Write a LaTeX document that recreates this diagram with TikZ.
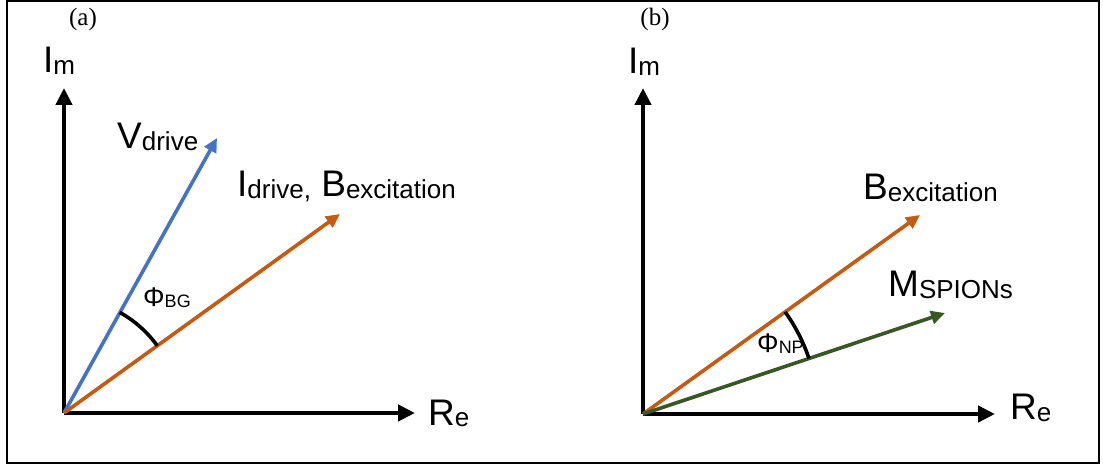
\documentclass[tikz,border=0pt]{standalone}
\usepackage{fontspec}
\setmainfont{Liberation Sans}
\newfontfamily\panelfont{Liberation Serif}
\usetikzlibrary{arrows.meta}
\definecolor{vblue}{HTML}{4472C4}
\definecolor{borange}{HTML}{C55A11}
\definecolor{mgreen}{HTML}{385723}
\newcommand{\lowsub}[1]{\raisebox{-1.5pt}{\fontsize{26}{26}\selectfont #1}}
\newcommand{\angsub}[1]{\raisebox{-1pt}{\fontsize{18}{18}\selectfont #1}}

\begin{document}
\begin{tikzpicture}[
      x=1pt, y=1pt,
      axis/.style={line width=4.4pt, -{Triangle[length=17pt,width=16pt]}},
      vec/.style={line width=3.6pt, -{Triangle[length=14pt,width=13pt]}},
      angarc/.style={line width=3.6pt},
      lbl/.style={anchor=base west, inner sep=0pt, font=\fontsize{37}{37}\selectfont},
      anglbl/.style={anchor=base west, inner sep=0pt, font=\fontsize{27}{27}\selectfont},
      panel/.style={inner sep=0pt, font=\panelfont\fontsize{25}{25}\selectfont},
    ]
      \useasboundingbox (0,0) rectangle (1103,466);
      \draw[line width=1.8pt] (7,3) rectangle (1099,465);

      % (a)
      \node[panel] (tagA) at (83,447) {(a)};
      \coordinate (oA) at (64,53);
      \coordinate (imA) at (64,378);
      \coordinate (reA) at (415,53);
      \coordinate (vtip) at (217,328);
      \coordinate (itip) at (340,252);
      \draw[axis] (oA) -- (imA);
      \draw[axis] (oA) -- (reA);
      \draw[vec, vblue] (oA) -- (vtip);
      \draw[vec, borange] (oA) -- (itip);
      \draw[angarc] (oA) ++(35.8:115) arc[start angle=35.8, end angle=61, radius=115];
      \node[lbl] (labImA) at (43,393) {I\lowsub{m}};
      \node[lbl] (labReA) at (428,41) {R\lowsub{e}};
      \node[lbl] (labV) at (117,317) {V\lowsub{drive}};
      \node[lbl] (labI) at (237,269) {I\lowsub{drive,} B\lowsub{excitation}};
      \node[anglbl] (phiBG) at (143,159) {Φ\angsub{BG}};

      % (b)
      \node[panel] (tagB) at (655,447) {(b)};
      \coordinate (oB) at (643,52);
      \coordinate (imB) at (643,378);
      \coordinate (reB) at (995,52);
      \coordinate (btip) at (920,251);
      \coordinate (mtip) at (945,153);
      \draw[axis] (oB) -- (imB);
      \draw[axis] (oB) -- (reB);
      \draw[vec, borange] (oB) -- (btip);
      \draw[vec, mgreen] (oB) -- (mtip);
      \draw[angarc] (oB) ++(18.5:175) arc[start angle=18.5, end angle=35.7, radius=175];
      \node[lbl] (labImB) at (628,392) {I\lowsub{m}};
      \node[lbl] (labReB) at (1010,46) {R\lowsub{e}};
      \node[lbl] (labB) at (863,266) {B\lowsub{excitation}};
      \node[lbl] (labM) at (888,169) {M\lowsub{SPIONs}};
      \node[anglbl] (phiNP) at (757,113) {Φ\angsub{NP}};
    \end{tikzpicture}
\end{document}
